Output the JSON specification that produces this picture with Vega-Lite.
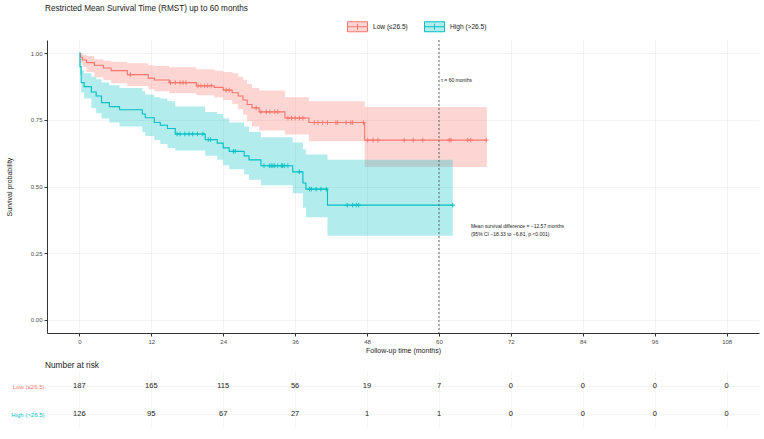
{
  "$schema": "https://vega.github.io/schema/vega-lite/v6.json",
  "padding": {"left": 5, "top": 3, "right": 5, "bottom": 5},
  "background": "white",
  "title": {
    "text": "Restricted Mean Survival Time (RMST) up to 60 months",
    "anchor": "start", "frame": "group", "fontSize": 8.2, "fontWeight": "normal",
    "color": "#1a1a1a", "offset": 3, "dx": -2
  },
  "config": {
    "font": "Liberation Sans",
    "view": {"stroke": null},
    "axis": {"labelFont": "Liberation Sans", "titleFont": "Liberation Sans"}
  },
  "datasets": {
    "km": [
      {"group": "Low (≤26.5)", "time": 0, "surv": 1, "lower": 1, "upper": 1},
      {"group": "Low (≤26.5)", "time": 0.2, "surv": 0.985, "lower": 0.965, "upper": 1},
      {"group": "Low (≤26.5)", "time": 0.5, "surv": 0.975, "lower": 0.95, "upper": 0.995},
      {"group": "Low (≤26.5)", "time": 1.2, "surv": 0.965, "lower": 0.93, "upper": 0.99},
      {"group": "Low (≤26.5)", "time": 2.5, "surv": 0.955, "lower": 0.91, "upper": 0.978},
      {"group": "Low (≤26.5)", "time": 4, "surv": 0.945, "lower": 0.9, "upper": 0.972},
      {"group": "Low (≤26.5)", "time": 5.3, "surv": 0.935, "lower": 0.888, "upper": 0.968},
      {"group": "Low (≤26.5)", "time": 8, "surv": 0.92, "lower": 0.877, "upper": 0.963},
      {"group": "Low (≤26.5)", "time": 11.5, "surv": 0.907, "lower": 0.865, "upper": 0.955},
      {"group": "Low (≤26.5)", "time": 12.5, "surv": 0.9, "lower": 0.858, "upper": 0.952},
      {"group": "Low (≤26.5)", "time": 15, "surv": 0.89, "lower": 0.85, "upper": 0.948},
      {"group": "Low (≤26.5)", "time": 19.5, "surv": 0.878, "lower": 0.843, "upper": 0.94},
      {"group": "Low (≤26.5)", "time": 22.5, "surv": 0.872, "lower": 0.835, "upper": 0.935},
      {"group": "Low (≤26.5)", "time": 24, "surv": 0.862, "lower": 0.825, "upper": 0.93},
      {"group": "Low (≤26.5)", "time": 25.5, "surv": 0.852, "lower": 0.81, "upper": 0.925},
      {"group": "Low (≤26.5)", "time": 26.5, "surv": 0.84, "lower": 0.79, "upper": 0.912},
      {"group": "Low (≤26.5)", "time": 27.3, "surv": 0.825, "lower": 0.77, "upper": 0.9},
      {"group": "Low (≤26.5)", "time": 28, "surv": 0.808, "lower": 0.745, "upper": 0.885},
      {"group": "Low (≤26.5)", "time": 28.8, "surv": 0.795, "lower": 0.725, "upper": 0.87},
      {"group": "Low (≤26.5)", "time": 30, "surv": 0.78, "lower": 0.71, "upper": 0.86},
      {"group": "Low (≤26.5)", "time": 34.3, "surv": 0.757, "lower": 0.695, "upper": 0.835},
      {"group": "Low (≤26.5)", "time": 38.3, "surv": 0.74, "lower": 0.67, "upper": 0.82},
      {"group": "Low (≤26.5)", "time": 47.6, "surv": 0.674, "lower": 0.573, "upper": 0.798},
      {"group": "Low (≤26.5)", "time": 68, "surv": 0.674, "lower": 0.573, "upper": 0.798},
      {"group": "High (>26.5)", "time": 0, "surv": 1, "lower": 1, "upper": 1},
      {"group": "High (>26.5)", "time": 0.1, "surv": 0.95, "lower": 0.92, "upper": 0.98},
      {"group": "High (>26.5)", "time": 0.3, "surv": 0.89, "lower": 0.853, "upper": 0.936},
      {"group": "High (>26.5)", "time": 0.8, "surv": 0.875, "lower": 0.83, "upper": 0.925},
      {"group": "High (>26.5)", "time": 2, "surv": 0.855, "lower": 0.795, "upper": 0.912},
      {"group": "High (>26.5)", "time": 2.8, "surv": 0.84, "lower": 0.775, "upper": 0.903},
      {"group": "High (>26.5)", "time": 3.7, "surv": 0.815, "lower": 0.755, "upper": 0.89},
      {"group": "High (>26.5)", "time": 5, "surv": 0.8, "lower": 0.74, "upper": 0.88},
      {"group": "High (>26.5)", "time": 6.7, "surv": 0.788, "lower": 0.725, "upper": 0.87},
      {"group": "High (>26.5)", "time": 10.5, "surv": 0.772, "lower": 0.705, "upper": 0.858},
      {"group": "High (>26.5)", "time": 11, "surv": 0.758, "lower": 0.69, "upper": 0.845},
      {"group": "High (>26.5)", "time": 12.5, "surv": 0.74, "lower": 0.675, "upper": 0.835},
      {"group": "High (>26.5)", "time": 13.5, "surv": 0.73, "lower": 0.66, "upper": 0.83},
      {"group": "High (>26.5)", "time": 14.7, "surv": 0.718, "lower": 0.645, "upper": 0.82},
      {"group": "High (>26.5)", "time": 16, "surv": 0.697, "lower": 0.635, "upper": 0.8},
      {"group": "High (>26.5)", "time": 21, "surv": 0.676, "lower": 0.615, "upper": 0.78},
      {"group": "High (>26.5)", "time": 23, "surv": 0.663, "lower": 0.6, "upper": 0.772},
      {"group": "High (>26.5)", "time": 24, "surv": 0.645, "lower": 0.58, "upper": 0.755},
      {"group": "High (>26.5)", "time": 25, "surv": 0.632, "lower": 0.565, "upper": 0.74},
      {"group": "High (>26.5)", "time": 27.5, "surv": 0.615, "lower": 0.545, "upper": 0.725},
      {"group": "High (>26.5)", "time": 28.3, "surv": 0.6, "lower": 0.525, "upper": 0.705},
      {"group": "High (>26.5)", "time": 30.3, "surv": 0.578, "lower": 0.505, "upper": 0.685},
      {"group": "High (>26.5)", "time": 35.6, "surv": 0.555, "lower": 0.475, "upper": 0.665},
      {"group": "High (>26.5)", "time": 37.3, "surv": 0.513, "lower": 0.42, "upper": 0.64},
      {"group": "High (>26.5)", "time": 37.8, "surv": 0.49, "lower": 0.385, "upper": 0.62},
      {"group": "High (>26.5)", "time": 41.4, "surv": 0.43, "lower": 0.315, "upper": 0.6},
      {"group": "High (>26.5)", "time": 62.3, "surv": 0.43, "lower": 0.315, "upper": 0.6}
    ],
    "censor": [
      {"group": "Low (≤26.5)", "time": 8.5, "surv": 0.92},
      {"group": "Low (≤26.5)", "time": 15.2, "surv": 0.89},
      {"group": "Low (≤26.5)", "time": 16, "surv": 0.89},
      {"group": "Low (≤26.5)", "time": 16.8, "surv": 0.89},
      {"group": "Low (≤26.5)", "time": 17.3, "surv": 0.89},
      {"group": "Low (≤26.5)", "time": 17.8, "surv": 0.89},
      {"group": "Low (≤26.5)", "time": 19.8, "surv": 0.878},
      {"group": "Low (≤26.5)", "time": 20.3, "surv": 0.878},
      {"group": "Low (≤26.5)", "time": 20.9, "surv": 0.878},
      {"group": "Low (≤26.5)", "time": 21.4, "surv": 0.878},
      {"group": "Low (≤26.5)", "time": 22, "surv": 0.878},
      {"group": "Low (≤26.5)", "time": 24.5, "surv": 0.862},
      {"group": "Low (≤26.5)", "time": 25, "surv": 0.862},
      {"group": "Low (≤26.5)", "time": 29.5, "surv": 0.795},
      {"group": "Low (≤26.5)", "time": 30.3, "surv": 0.78},
      {"group": "Low (≤26.5)", "time": 31.2, "surv": 0.78},
      {"group": "Low (≤26.5)", "time": 31.8, "surv": 0.78},
      {"group": "Low (≤26.5)", "time": 32.6, "surv": 0.78},
      {"group": "Low (≤26.5)", "time": 33.1, "surv": 0.78},
      {"group": "Low (≤26.5)", "time": 34.8, "surv": 0.757},
      {"group": "Low (≤26.5)", "time": 35.4, "surv": 0.757},
      {"group": "Low (≤26.5)", "time": 36, "surv": 0.757},
      {"group": "Low (≤26.5)", "time": 36.7, "surv": 0.757},
      {"group": "Low (≤26.5)", "time": 37.3, "surv": 0.757},
      {"group": "Low (≤26.5)", "time": 39.2, "surv": 0.74},
      {"group": "Low (≤26.5)", "time": 39.8, "surv": 0.74},
      {"group": "Low (≤26.5)", "time": 40.6, "surv": 0.74},
      {"group": "Low (≤26.5)", "time": 41.4, "surv": 0.74},
      {"group": "Low (≤26.5)", "time": 42.8, "surv": 0.74},
      {"group": "Low (≤26.5)", "time": 43.1, "surv": 0.74},
      {"group": "Low (≤26.5)", "time": 44.5, "surv": 0.74},
      {"group": "Low (≤26.5)", "time": 45.3, "surv": 0.74},
      {"group": "Low (≤26.5)", "time": 45.6, "surv": 0.74},
      {"group": "Low (≤26.5)", "time": 47.4, "surv": 0.74},
      {"group": "Low (≤26.5)", "time": 48.1, "surv": 0.674},
      {"group": "Low (≤26.5)", "time": 49, "surv": 0.674},
      {"group": "Low (≤26.5)", "time": 49.8, "surv": 0.674},
      {"group": "Low (≤26.5)", "time": 54.2, "surv": 0.674},
      {"group": "Low (≤26.5)", "time": 55.7, "surv": 0.674},
      {"group": "Low (≤26.5)", "time": 57.3, "surv": 0.674},
      {"group": "Low (≤26.5)", "time": 61.7, "surv": 0.674},
      {"group": "Low (≤26.5)", "time": 62, "surv": 0.674},
      {"group": "Low (≤26.5)", "time": 64.8, "surv": 0.674},
      {"group": "Low (≤26.5)", "time": 65.3, "surv": 0.674},
      {"group": "Low (≤26.5)", "time": 67.9, "surv": 0.674},
      {"group": "High (>26.5)", "time": 16.3, "surv": 0.697},
      {"group": "High (>26.5)", "time": 16.8, "surv": 0.697},
      {"group": "High (>26.5)", "time": 17.6, "surv": 0.697},
      {"group": "High (>26.5)", "time": 18.3, "surv": 0.697},
      {"group": "High (>26.5)", "time": 18.9, "surv": 0.697},
      {"group": "High (>26.5)", "time": 19.7, "surv": 0.697},
      {"group": "High (>26.5)", "time": 20.6, "surv": 0.697},
      {"group": "High (>26.5)", "time": 21.5, "surv": 0.676},
      {"group": "High (>26.5)", "time": 21.9, "surv": 0.676},
      {"group": "High (>26.5)", "time": 25.7, "surv": 0.632},
      {"group": "High (>26.5)", "time": 26, "surv": 0.632},
      {"group": "High (>26.5)", "time": 30.8, "surv": 0.578},
      {"group": "High (>26.5)", "time": 31.7, "surv": 0.578},
      {"group": "High (>26.5)", "time": 32, "surv": 0.578},
      {"group": "High (>26.5)", "time": 32.3, "surv": 0.578},
      {"group": "High (>26.5)", "time": 32.6, "surv": 0.578},
      {"group": "High (>26.5)", "time": 33.1, "surv": 0.578},
      {"group": "High (>26.5)", "time": 33.7, "surv": 0.578},
      {"group": "High (>26.5)", "time": 33.9, "surv": 0.578},
      {"group": "High (>26.5)", "time": 34.2, "surv": 0.578},
      {"group": "High (>26.5)", "time": 34.8, "surv": 0.578},
      {"group": "High (>26.5)", "time": 36.7, "surv": 0.555},
      {"group": "High (>26.5)", "time": 38.4, "surv": 0.49},
      {"group": "High (>26.5)", "time": 38.7, "surv": 0.49},
      {"group": "High (>26.5)", "time": 39.5, "surv": 0.49},
      {"group": "High (>26.5)", "time": 40.3, "surv": 0.49},
      {"group": "High (>26.5)", "time": 41.2, "surv": 0.49},
      {"group": "High (>26.5)", "time": 44.7, "surv": 0.43},
      {"group": "High (>26.5)", "time": 45.6, "surv": 0.43},
      {"group": "High (>26.5)", "time": 46.2, "surv": 0.43},
      {"group": "High (>26.5)", "time": 46.6, "surv": 0.43},
      {"group": "High (>26.5)", "time": 62.3, "surv": 0.43}
    ],
    "notes": [
      {"time": 60, "surv": 0.9, "label": "τ = 60 months"},
      {"time": 65, "surv": 0.35, "label": "Mean survival difference = −12.57 months\n(95% CI −18.33 to −6.81, p <0.001)"}
    ],
    "tau": [{"time": 60}],
    "risk": [
      {"group": "Low (≤26.5)", "time": 0, "n": 187},
      {"group": "Low (≤26.5)", "time": 12, "n": 165},
      {"group": "Low (≤26.5)", "time": 24, "n": 115},
      {"group": "Low (≤26.5)", "time": 36, "n": 56},
      {"group": "Low (≤26.5)", "time": 48, "n": 19},
      {"group": "Low (≤26.5)", "time": 60, "n": 7},
      {"group": "Low (≤26.5)", "time": 72, "n": 0},
      {"group": "Low (≤26.5)", "time": 84, "n": 0},
      {"group": "Low (≤26.5)", "time": 96, "n": 0},
      {"group": "Low (≤26.5)", "time": 108, "n": 0},
      {"group": "High (>26.5)", "time": 0, "n": 126},
      {"group": "High (>26.5)", "time": 12, "n": 95},
      {"group": "High (>26.5)", "time": 24, "n": 67},
      {"group": "High (>26.5)", "time": 36, "n": 27},
      {"group": "High (>26.5)", "time": 48, "n": 1},
      {"group": "High (>26.5)", "time": 60, "n": 1},
      {"group": "High (>26.5)", "time": 72, "n": 0},
      {"group": "High (>26.5)", "time": 84, "n": 0},
      {"group": "High (>26.5)", "time": 96, "n": 0},
      {"group": "High (>26.5)", "time": 108, "n": 0}
    ]
  },
  "bounds": "flush",
  "spacing": 39,
  "vconcat": [
    {
      "width": 712,
      "height": 293,
      "layer": [
        {
          "data": {"name": "km"},
          "mark": {"type": "area", "interpolate": "step-after", "fillOpacity": 0.3},
          "encoding": {
            "x": {
              "field": "time", "type": "quantitative",
              "scale": {"domain": [-5.4, 113.4], "nice": false, "zero": false},
              "axis": {
                "values": [0, 12, 24, 36, 48, 60, 72, 84, 96, 108],
                "title": "Follow-up time (months)",
                "grid": true, "gridColor": "#EBEBEB", "gridWidth": 0.6,
                "domainColor": "#333333", "domainWidth": 1,
                "tickColor": "#333333", "tickSize": 3,
                "labelFontSize": 6, "labelColor": "#4D4D4D", "labelPadding": 2,
                "titleFontSize": 7, "titleFontWeight": "normal", "titleColor": "#1a1a1a", "titlePadding": 2
              }
            },
            "y": {
              "field": "lower", "type": "quantitative", "stack": null,
              "scale": {"domain": [-0.05, 1.05], "nice": false, "zero": false},
              "axis": {
                "values": [0, 0.25, 0.5, 0.75, 1], "format": ".2f",
                "title": "Survival probability",
                "grid": true, "gridColor": "#EBEBEB", "gridWidth": 0.6,
                "domainColor": "#333333", "domainWidth": 1,
                "tickColor": "#333333", "tickSize": 3,
                "labelFontSize": 6, "labelColor": "#4D4D4D", "labelPadding": 2,
                "titleFontSize": 7, "titleFontWeight": "normal", "titleColor": "#1a1a1a", "titlePadding": 18
              }
            },
            "y2": {"field": "upper"},
            "fill": {
              "field": "group", "type": "nominal",
              "scale": {"domain": ["Low (≤26.5)", "High (>26.5)"], "range": ["#F8766D", "#00BFC4"]},
              "legend": {
                "title": null, "orient": "none", "legendX": 300, "legendY": -24,
                "direction": "horizontal", "columnPadding": 14,
                "labelFontSize": 6.6, "labelColor": "#1a1a1a", "labelOffset": 5,
                "symbolType": "M-1,-0.5H1V0.5H-1Z M-1,0H1 M0,-0.3V0.3",
                "symbolSize": 400,
                "encode": {
                  "symbols": {
                    "update": {
                      "fill": {"signal": "datum.value === 'High (>26.5)' ? '#00BFC4' : '#F8766D'"},
                      "stroke": {"signal": "datum.value === 'High (>26.5)' ? '#00BFC4' : '#F8766D'"},
                      "opacity": {"value": 1},
                      "fillOpacity": {"value": 0.3},
                      "strokeOpacity": {"value": 1},
                      "strokeWidth": {"value": 1}
                    }
                  }
                }
              }
            }
          }
        },
        {
          "data": {"name": "km"},
          "mark": {"type": "line", "interpolate": "step-after", "strokeWidth": 1.1},
          "encoding": {
            "x": {"field": "time", "type": "quantitative"},
            "y": {"field": "surv", "type": "quantitative"},
            "stroke": {
              "field": "group", "type": "nominal",
              "scale": {"domain": ["Low (≤26.5)", "High (>26.5)"], "range": ["#F8766D", "#00BFC4"]},
              "legend": null
            }
          }
        },
        {
          "data": {"name": "censor"},
          "mark": {"type": "point", "shape": "M-1,0H1M0,-1V1", "size": 22, "strokeWidth": 0.9, "filled": false, "opacity": 1},
          "encoding": {
            "x": {"field": "time", "type": "quantitative"},
            "y": {"field": "surv", "type": "quantitative"},
            "stroke": {"field": "group", "type": "nominal", "legend": null}
          }
        },
        {
          "data": {"name": "tau"},
          "mark": {"type": "rule", "strokeDash": [2, 2], "color": "#666666", "strokeWidth": 1},
          "encoding": {"x": {"field": "time", "type": "quantitative"}}
        },
        {
          "data": {"name": "notes"},
          "mark": {"type": "text", "align": "left", "baseline": "middle", "fontSize": 5, "color": "#1a1a1a", "dx": 2, "lineBreak": "\n", "lineHeight": 8},
          "encoding": {
            "x": {"field": "time", "type": "quantitative"},
            "y": {"field": "surv", "type": "quantitative"},
            "text": {"field": "label"}
          }
        }
      ]
    },
    {
      "width": 712,
      "height": 56,
      "title": {"text": "Number at risk", "anchor": "start", "frame": "group", "fontSize": 8.3, "fontWeight": "normal", "color": "#1a1a1a", "offset": 3, "dx": -2},
      "data": {"name": "risk"},
      "mark": {"type": "text", "fontSize": 7.5, "color": "#222222"},
      "encoding": {
        "x": {
          "field": "time", "type": "quantitative",
          "scale": {"domain": [-5.4, 113.4], "nice": false, "zero": false},
          "axis": {"values": [0, 12, 24, 36, 48, 60, 72, 84, 96, 108], "labels": false, "ticks": false, "domain": false, "title": null, "grid": true, "gridColor": "#EFEFEF", "gridWidth": 0.6}
        },
        "y": {
          "field": "group", "type": "nominal",
          "scale": {"type": "point", "domain": ["Low (≤26.5)", "High (>26.5)"], "padding": 0.5},
          "axis": {
            "title": null, "domain": false, "ticks": false, "grid": true, "gridColor": "#EFEFEF", "gridWidth": 0.6,
            "labelFontSize": 6, "labelPadding": 3,
            "labelColor": {"condition": {"test": "datum.value === 'High (>26.5)'", "value": "#00BFC4"}, "value": "#F8766D"}
          }
        },
        "text": {"field": "n", "type": "quantitative"}
      }
    }
  ]
}
